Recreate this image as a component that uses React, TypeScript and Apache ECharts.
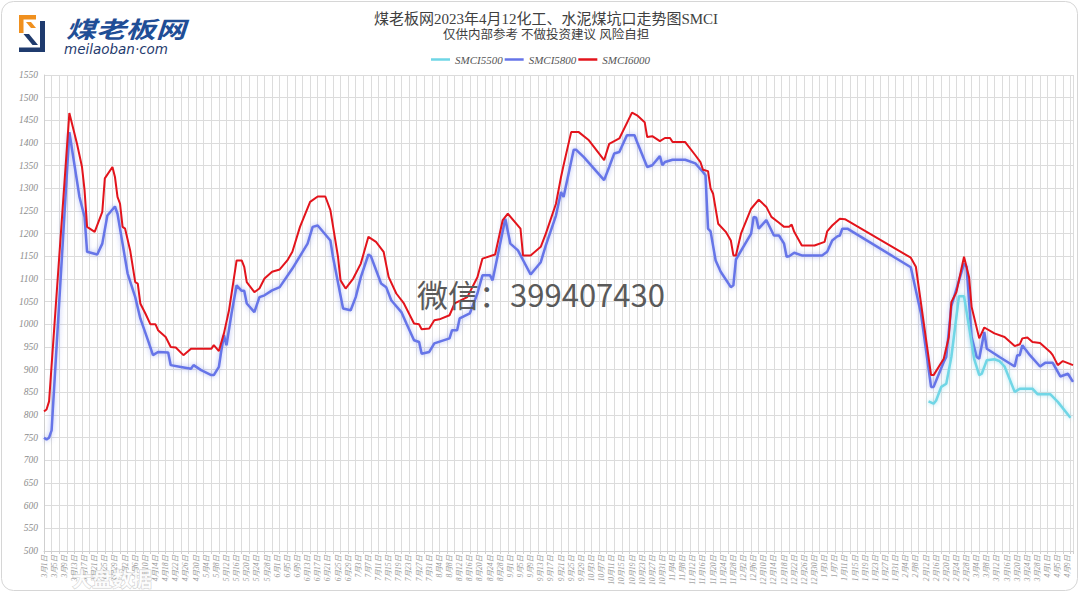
import React, { useEffect, useRef } from 'react';
import * as echarts from 'echarts';

// x values are day offsets counted from 2022-03-01
const START_DATE = Date.UTC(2022, 2, 1);
const AXIS_LAST_DAY = 406;

const Y_MIN = 500;
const Y_MAX = 1550;
const Y_STEP = 50;

const legendNames = ['SMCI5500', 'SMCI5800', 'SMCI6000'];

const days6000 = [0, 1, 2, 10, 13, 15, 16, 17, 20, 23, 24, 27, 28, 29, 30, 31, 32, 34, 36, 37, 38, 40, 42, 44, 45, 48, 50, 52, 55, 58, 66, 67, 69, 71, 73, 76, 78, 79, 80, 83, 85, 87, 90, 93, 96, 98, 101, 105, 108, 111, 113, 116, 117, 119, 122, 125, 128, 131, 134, 136, 139, 142, 146, 148, 149, 152, 154, 156, 160, 162, 167, 171, 173, 178, 181, 183, 188, 189, 192, 196, 198, 202, 204, 205, 208, 211, 215, 221, 223, 227, 232, 234, 237, 238, 240, 243, 245, 247, 248, 253, 257, 259, 260, 262, 263, 264, 266, 269, 271, 272, 273, 275, 279, 282, 285, 287, 290, 292, 294, 295, 296, 299, 304, 308, 309, 311, 314, 316, 342, 344, 350, 351, 355, 357, 358, 360, 363, 365, 366, 369, 371, 375, 379, 383, 385, 386, 388, 390, 393, 397, 398, 400, 402, 406];
const smci6000 = [808, 812, 830, 1466, 1399, 1347, 1296, 1215, 1204, 1248, 1322, 1347, 1325, 1281, 1266, 1215, 1211, 1163, 1093, 1090, 1046, 1024, 1000, 1000, 987, 972, 950, 949, 932, 946, 946, 954, 941, 980, 1031, 1141, 1141, 1127, 1093, 1071, 1079, 1101, 1116, 1121, 1141, 1160, 1215, 1270, 1282, 1282, 1252, 1149, 1097, 1079, 1101, 1134, 1193, 1182, 1160, 1104, 1068, 1046, 1002, 1000, 989, 991, 1009, 1011, 1020, 1046, 1060, 1104, 1145, 1154, 1230, 1244, 1211, 1152, 1152, 1171, 1200, 1266, 1325, 1351, 1424, 1424, 1406, 1362, 1398, 1410, 1467, 1461, 1446, 1413, 1415, 1404, 1411, 1411, 1402, 1402, 1373, 1358, 1341, 1338, 1300, 1288, 1222, 1204, 1185, 1152, 1152, 1200, 1255, 1275, 1259, 1237, 1224, 1215, 1215, 1220, 1204, 1174, 1174, 1182, 1205, 1218, 1233, 1232, 1147, 1127, 888, 888, 924, 972, 1049, 1071, 1149, 1104, 1038, 969, 993, 980, 972, 952, 956, 969, 971, 961, 959, 939, 932, 910, 919, 910];

const days5800 = [0, 1, 2, 3, 10, 14, 16, 17, 21, 23, 25, 28, 29, 31, 33, 36, 38, 41, 43, 45, 49, 50, 54, 58, 59, 62, 66, 67, 69, 70, 71, 72, 74, 76, 78, 79, 80, 83, 85, 87, 90, 93, 98, 104, 106, 108, 113, 114, 118, 121, 123, 125, 128, 129, 133, 135, 137, 141, 143, 146, 148, 149, 152, 154, 160, 161, 163, 164, 168, 171, 173, 176, 177, 182, 184, 187, 192, 196, 198, 202, 204, 205, 209, 210, 213, 221, 223, 225, 227, 230, 233, 234, 238, 240, 243, 244, 245, 248, 253, 257, 260, 261, 262, 263, 265, 267, 271, 272, 273, 279, 280, 281, 282, 285, 288, 290, 292, 293, 294, 296, 299, 307, 309, 311, 313, 314, 315, 317, 342, 346, 350, 351, 355, 356, 358, 363, 364, 366, 368, 369, 371, 372, 377, 383, 384, 385, 386, 389, 393, 395, 398, 401, 404, 406];
const smci5800 = [750, 746, 750, 766, 1424, 1281, 1237, 1160, 1154, 1178, 1240, 1260, 1244, 1178, 1112, 1060, 1013, 965, 932, 939, 938, 910, 906, 902, 910, 899, 888, 888, 906, 943, 976, 954, 1024, 1086, 1074, 1074, 1046, 1027, 1060, 1064, 1075, 1082, 1123, 1178, 1215, 1218, 1185, 1149, 1035, 1031, 1060, 1104, 1154, 1150, 1090, 1082, 1053, 1027, 1002, 965, 961, 935, 939, 958, 969, 987, 987, 1013, 1024, 1068, 1108, 1108, 1097, 1233, 1178, 1163, 1110, 1137, 1174, 1240, 1292, 1281, 1385, 1385, 1369, 1318, 1347, 1377, 1380, 1417, 1417, 1402, 1347, 1351, 1371, 1351, 1358, 1363, 1363, 1355, 1336, 1329, 1211, 1205, 1141, 1116, 1082, 1086, 1143, 1200, 1237, 1235, 1211, 1230, 1196, 1196, 1178, 1149, 1150, 1158, 1152, 1152, 1160, 1185, 1194, 1196, 1211, 1211, 1126, 1024, 862, 862, 917, 928, 1040, 1134, 1127, 972, 928, 924, 983, 946, 928, 907, 932, 932, 954, 932, 907, 915, 915, 885, 891, 873];

const days5500 = [349, 351, 352, 354, 356, 358, 361, 363, 365, 367, 369, 370, 372, 375, 377, 379, 383, 385, 390, 392, 397, 400, 405];
const smci5500 = [830, 825, 832, 862, 869, 928, 1062, 1062, 994, 924, 888, 891, 921, 923, 919, 907, 851, 858, 858, 846, 846, 829, 794];

const dayLabel = (v: number) => {
  if (v % 4 !== 0) return '';
  const d = new Date(START_DATE + v * 86400000);
  return `${d.getUTCMonth() + 1}月${d.getUTCDate()}日`;
};

const pairs = (xs: number[], ys: number[]) => xs.map((x, i) => [x, ys[i]]);

const SERIF = '"Liberation Serif", "DejaVu Serif", "Noto Sans CJK SC", serif';

export default function App() {
  const ref = useRef<HTMLDivElement>(null);
  useEffect(() => {
    if (!ref.current) return;
    const chart = echarts.init(ref.current, undefined, { renderer: 'svg' });
    const gridColor = '#dcdcdc';
    chart.setOption({
      animation: false,
      backgroundColor: '#ffffff',
      grid: { left: 44, right: 7, top: 75, bottom: 43, containLabel: false },
      legend: {
        data: legendNames,
        left: 426,
        top: 49,
        icon: 'rect',
        itemWidth: 19,
        itemHeight: 2.5,
        itemGap: 2,
        textStyle: { fontFamily: SERIF, fontStyle: 'italic', fontSize: 11, color: '#555' },
      },
      xAxis: [
        {
          type: 'value',
          min: 0,
          max: AXIS_LAST_DAY,
          interval: 4,
          axisLine: { show: true, lineStyle: { color: '#cfcfcf' } },
          axisTick: { show: false },
          splitLine: { show: false },
          axisLabel: {
            rotate: 90,
            margin: 4,
            fontSize: 7.5,
            fontStyle: 'italic',
            fontFamily: SERIF,
            color: '#9a9a9a',
            formatter: dayLabel,
            showMinLabel: true,
            showMaxLabel: false,
          },
        },
        {
          type: 'value',
          position: 'bottom',
          min: 0,
          max: AXIS_LAST_DAY,
          interval: 3,
          axisLine: { show: false },
          axisTick: { show: true, length: 3, lineStyle: { color: '#cfcfcf' } },
          axisLabel: { show: false },
          splitLine: { show: true, lineStyle: { color: gridColor, width: 1 } },
        },
      ],
      yAxis: {
        type: 'value',
        min: Y_MIN,
        max: Y_MAX,
        interval: Y_STEP,
        axisLine: { show: true, lineStyle: { color: '#cfcfcf' } },
        axisTick: { show: false },
        axisLabel: {
          margin: 6,
          fontSize: 9.5,
          fontStyle: 'italic',
          fontFamily: SERIF,
          color: '#8c8c8c',
          formatter: (v: number) => String(v),
        },
        splitLine: { show: true, lineStyle: { color: gridColor, width: 1 } },
      },
      series: [
        {
          name: 'SMCI5500',
          type: 'line',
          xAxisIndex: 0,
          data: pairs(days5500, smci5500),
          showSymbol: false,
          symbol: 'none',
          color: '#6fd6e6',
          lineStyle: { width: 2.5, color: '#6fd6e6', shadowColor: 'rgba(80,200,225,0.5)', shadowBlur: 4 },
          z: 3,
        },
        {
          name: 'SMCI5800',
          type: 'line',
          xAxisIndex: 0,
          data: pairs(days5800, smci5800),
          showSymbol: false,
          symbol: 'none',
          color: '#6674e8',
          lineStyle: { width: 2.5, color: '#6674e8', shadowColor: 'rgba(90,110,230,0.5)', shadowBlur: 5 },
          z: 2,
        },
        {
          name: 'SMCI6000',
          type: 'line',
          xAxisIndex: 0,
          data: pairs(days6000, smci6000),
          showSymbol: false,
          symbol: 'none',
          color: '#e3141c',
          lineStyle: { width: 2, color: '#e3141c' },
          z: 4,
        },
      ],
      graphic: [
        {
          type: 'rect',
          z: -10,
          silent: true,
          shape: { x: 1.5, y: 1.5, width: 1076, height: 589, r: 12 },
          style: { fill: 'none', stroke: '#d6d6d6', lineWidth: 1 },
        },
        {
          type: 'text',
          x: 546,
          y: 19,
          style: {
            text: '煤老板网2023年4月12化工、水泥煤坑口走势图SMCI',
            fontSize: 15,
            fontFamily: SERIF,
            fill: '#404040',
            textAlign: 'center',
            textVerticalAlign: 'middle',
          },
        },
        {
          type: 'text',
          x: 546,
          y: 35,
          style: {
            text: '仅供内部参考 不做投资建议 风险自担',
            fontSize: 12.5,
            fontFamily: SERIF,
            fill: '#404040',
            textAlign: 'center',
            textVerticalAlign: 'middle',
          },
        },
        {
          type: 'text',
          x: 541,
          y: 293,
          z: 20,
          style: {
            text: '微信：399407430',
            fontSize: 31,
            fontFamily: '"Noto Sans CJK SC", "Noto Sans", sans-serif',
            fill: '#5a5a5a',
            textAlign: 'center',
            textVerticalAlign: 'middle',
          },
        },
        {
          type: 'polygon',
          shape: { points: [[19, 15], [36, 15], [36, 19.5], [23.5, 19.5], [23.5, 33], [19, 33]] },
          style: { fill: '#f0901e' },
        },
        {
          type: 'polygon',
          shape: { points: [[26, 22], [31, 22], [36, 28], [31, 28]] },
          style: { fill: '#f0901e' },
        },
        {
          type: 'polygon',
          shape: { points: [[40, 21], [45, 21], [45, 52], [19, 52], [19, 47.5], [40, 47.5]] },
          style: { fill: '#1f3b6e' },
        },
        {
          type: 'polygon',
          shape: { points: [[23.5, 34], [29, 34], [38, 45], [32.5, 45]] },
          style: { fill: '#1f3b6e' },
        },
        {
          type: 'text',
          x: 66,
          y: 28,
          scaleX: 1.3,
          style: {
            text: '煤老板网',
            fontSize: 23,
            fontWeight: 'bold',
            fontStyle: 'italic',
            fontFamily: '"Noto Sans CJK SC", sans-serif',
            fill: '#1f4e96',
            textVerticalAlign: 'middle',
          },
        },
        {
          type: 'text',
          x: 64,
          y: 49,
          style: {
            text: 'meilaoban·com',
            fontSize: 13.5,
            fontStyle: 'italic',
            fontFamily: '"DejaVu Sans", sans-serif',
            fill: '#1f3b6e',
            textVerticalAlign: 'middle',
          },
        },
        {
          type: 'text',
          x: 72,
          y: 578,
          z: 20,
          style: {
            text: '大盘数据',
            fontSize: 20,
            fontWeight: 'bold',
            fontFamily: '"Noto Sans CJK SC", sans-serif',
            fill: 'rgba(255,255,255,0.85)',
            stroke: 'rgba(170,170,170,0.6)',
            lineWidth: 1,
            textVerticalAlign: 'middle',
          },
        },
      ],
    });
    return () => chart.dispose();
  }, []);
  return (
    <div
      ref={ref}
      style={{ position: 'absolute', left: 0, top: 0, width: 1080, height: 594 }}
    />
  );
}
